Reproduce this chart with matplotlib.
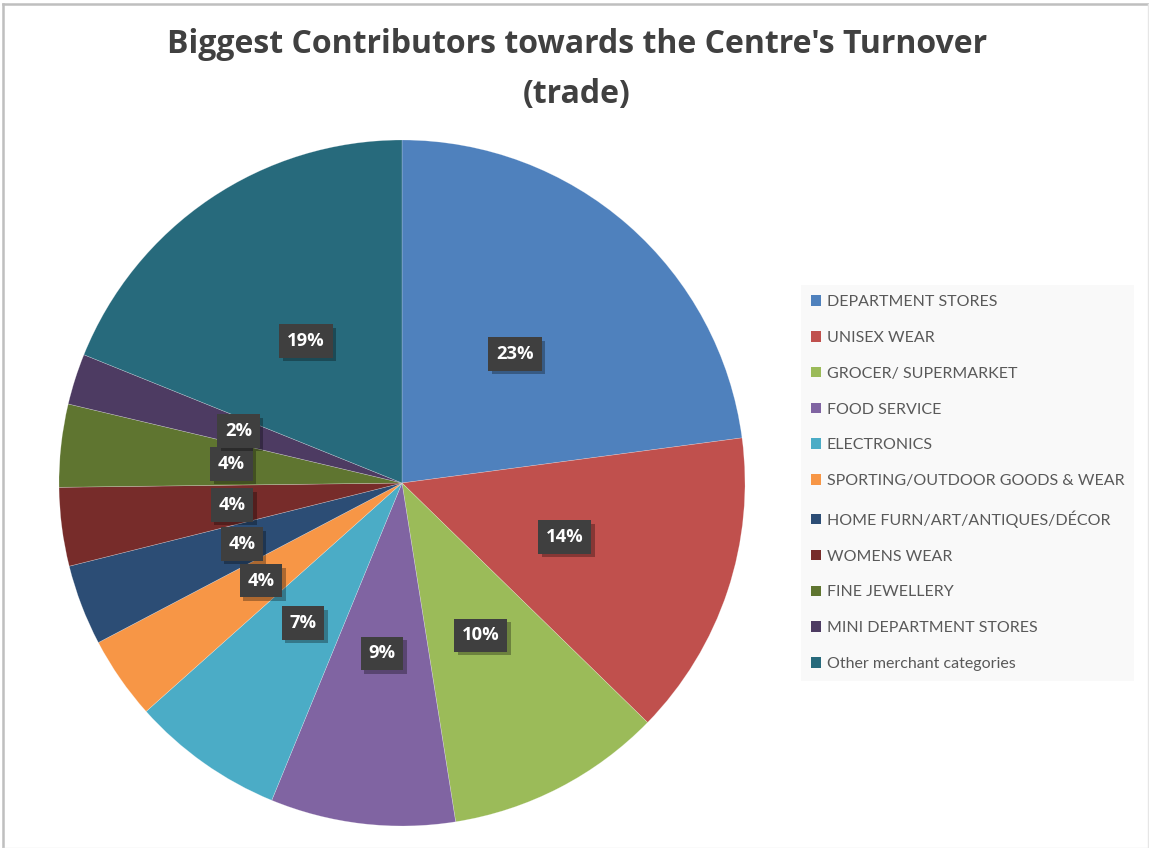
import matplotlib
matplotlib.use("Agg")
import matplotlib.pyplot as plt
import matplotlib.patheffects as pe
from matplotlib.patches import Patch
from matplotlib.lines import Line2D

categories = [
    "DEPARTMENT STORES",
    "UNISEX WEAR",
    "GROCER/ SUPERMARKET",
    "FOOD SERVICE",
    "ELECTRONICS",
    "SPORTING/OUTDOOR GOODS & WEAR",
    "HOME FURN/ART/ANTIQUES/DÉCOR",
    "WOMENS WEAR",
    "FINE JEWELLERY",
    "MINI DEPARTMENT STORES",
    "Other merchant categories",
]
shares = [22.9, 14.4, 10.2, 8.7, 7.2, 3.9, 3.8, 3.7, 3.9, 2.4, 18.9]
colors = ["#4F81BD", "#C0504D", "#9BBB59", "#8064A2", "#4BACC6", "#F79646",
          "#2C4D75", "#772C2A", "#5F7530", "#4D3B62", "#276A7C"]

W, H = 1149, 848
fig = plt.figure(figsize=(W / 100, H / 100), dpi=100)
fig.patch.set_facecolor("white")

BOLDFONT = ["Open Sans", "DejaVu Sans"]
LEGFONT = ["Lato", "DejaVu Sans"]

# pie axes: center (402, 483) px, radius 343 px
cx, cy, r = 402, 483, 343
ax = fig.add_axes([(cx - r) / W, (H - cy - r) / H, 2 * r / W, 2 * r / H])
wedges, texts, autotexts = ax.pie(
    shares, colors=colors, startangle=90, counterclock=False,
    autopct="%.0f%%", pctdistance=0.5, radius=1,
    wedgeprops=dict(linewidth=0.4, edgecolor=(1, 1, 1, 0.35)),
    textprops=dict(color="white", fontsize=13.2, fontweight="bold", family=BOLDFONT),
)
ax.set_xlim(-1, 1)
ax.set_ylim(-1, 1)
ax.set_aspect("auto")
ax.axis("off")

for t in autotexts:
    t.set_bbox(dict(boxstyle="square,pad=0.42", facecolor="#3f3f3f", edgecolor="none"))
    t.get_bbox_patch().set_path_effects(
        [pe.withSimplePatchShadow(offset=(2.5, -2.5), shadow_rgbFace="black", alpha=0.3)])

# title
fig.text(577 / W, 1 - 53 / H, "Biggest Contributors towards the Centre's Turnover",
         ha="center", va="baseline", fontsize=23, fontweight="bold", color="#404040",
         family=BOLDFONT)
fig.text(577 / W, 1 - 103 / H, "(trade)",
         ha="center", va="baseline", fontsize=23, fontweight="bold", color="#404040",
         family=BOLDFONT)

# legend
handles = [Patch(facecolor=c, edgecolor="none") for c in colors]
leg = fig.legend(handles, categories, loc="upper left",
                 bbox_to_anchor=(801 / W, 1 - 285 / H), bbox_transform=fig.transFigure,
                 borderaxespad=0, frameon=True, fancybox=False,
                 prop=dict(family=LEGFONT, size=11.5),
                 handlelength=0.65, handleheight=0.65, handletextpad=0.35,
                 labelspacing=1.37, borderpad=0.62)
leg.get_frame().set_facecolor("#f8f8f8")
leg.get_frame().set_edgecolor("none")
for t in leg.get_texts():
    t.set_color("#595959")

# outer border
fig.add_artist(Line2D([2.5 / W, 2.5 / W], [0, 1 - 3.5 / H], transform=fig.transFigure,
                      color="#bfbfbf", lw=1.8))
fig.add_artist(Line2D([2.5 / W, 1], [1 - 3.5 / H, 1 - 3.5 / H], transform=fig.transFigure,
                      color="#bfbfbf", lw=1.8))
fig.add_artist(Line2D([1147.5 / W, 1147.5 / W], [0, 1 - 3.5 / H], transform=fig.transFigure,
                      color="#e6e6e6", lw=1.0))
fig.add_artist(Line2D([2.5 / W, 1147.5 / W], [0.5 / H, 0.5 / H], transform=fig.transFigure,
                      color="#e6e6e6", lw=1.0))

fig.savefig("out.png", dpi=100)
